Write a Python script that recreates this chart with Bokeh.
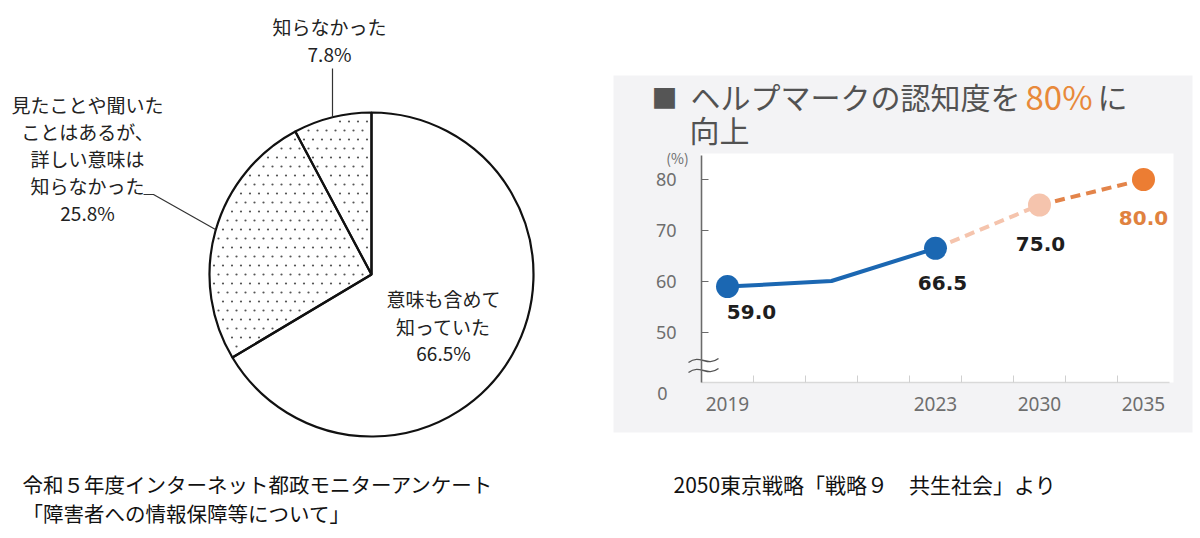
import numpy as np
from bokeh.plotting import figure
from bokeh.models import Range1d, LinearAxis, FixedTicker
from bokeh.layouts import row
from bokeh.core.properties import value
from bokeh.embed import file_html
from bokeh.resources import INLINE

# ---------------- survey answers (pie) ----------------
pie_names = ["意味も含めて知っていた", "見たことや聞いたことはあるが、詳しい意味は知らなかった", "知らなかった"]
pie_values = [66.5, 25.8, 7.8]
pie_stippled = [False, True, True]

# ---------------- help-mark awareness (line) ----------------
years = ["2019", "2021", "2023", "2030", "2035"]
year_slot = [0, 2, 4, 6, 8]
awareness = [59.0, 60.1, 66.5, 75.0, 80.0]
marked = [True, False, True, True, True]
axis_years = ["2019", "2023", "2030", "2035"]
y_ticks = [50, 60, 70, 80]

JP = value("Noto Sans CJK JP")
W, H = 600, 538

# ======================= left panel =======================
CX, CY, R = 371, 274, 162   # pie centre / radius in panel pixels
left = figure(width=W, height=H, output_backend="svg", toolbar_location=None,
              x_range=Range1d(-CX / R, (W - CX) / R),
              y_range=Range1d((CY - H) / R, CY / R),
              x_axis_type=None, y_axis_type=None, min_border=0,
              outline_line_color=None, background_fill_color="white",
              border_fill_color="white")
left.extra_x_ranges = {"px": Range1d(0, W)}
left.extra_y_ranges = {"py": Range1d(H, 0)}

shares = np.array(pie_values) / sum(pie_values)
cum = np.concatenate([[0.0], np.cumsum(shares)])
starts = np.pi / 2 - 2 * np.pi * cum[1:]
ends = np.pi / 2 - 2 * np.pi * cum[:-1]
left.wedge(x=0, y=0, radius=1, start_angle=starts, end_angle=ends,
           fill_color="white", line_color=None)

# stipple texture for the shaded slices: staggered grid of fine dots
step = 9.0 / R
gy = np.arange(-1, 1 + step, step)
sx, sy = [], []
for i, yy in enumerate(gy):
    gx = np.arange(-1 + (i % 2) * step / 2, 1 + step, step)
    sx.extend(gx)
    sy.extend([yy] * len(gx))
sx, sy = np.array(sx), np.array(sy)
rr = np.hypot(sx, sy)
frac = (np.arctan2(sx, sy) % (2 * np.pi)) / (2 * np.pi)   # clockwise from 12 o'clock
keep = np.zeros(len(sx), dtype=bool)
for k, st in enumerate(pie_stippled):
    if st:
        a0, a1 = 2 * np.pi * cum[k], 2 * np.pi * cum[k + 1]
        ang = frac * 2 * np.pi
        inside = (ang > a0) & (ang < a1)
        # keep dots clear of the slice edges
        d0 = rr * np.abs(np.sin(ang - a0))
        d1 = rr * np.abs(np.sin(a1 - ang))
        keep |= inside & (d0 > 3 / R) & (d1 > 3 / R) & (rr < 1 - 4 / R)
left.scatter(x=sx[keep], y=sy[keep], size=2.2, fill_color="#555555", line_color=None)

left.wedge(x=0, y=0, radius=1, start_angle=starts, end_angle=ends,
           fill_color=None, line_color="#111111", line_width=2.2)

pct = [f"{v:.1f}%" for v in pie_values]

def ltext(x, y, lines, size="19px", color="#222222"):
    left.text(x=[x] * len(lines), y=y, text=lines, x_range_name="px", y_range_name="py",
              text_font=JP, text_font_size=size, text_color=color,
              text_align="center", text_baseline="middle")

# label inside the large slice
ltext(443, [298, 326, 352], ["意味も含めて", "知っていた", pct[0]])
# label for the middle slice
ltext(87, [104, 131, 158, 185, 212],
      ["見たことや聞いた", "ことはあるが、", "詳しい意味は", "知らなかった", pct[1]])
# label for the small slice
ltext(329, [26, 53], ["知らなかった", pct[2]])

# leader lines
left.line(x=[332, 332], y=[68, 117], x_range_name="px", y_range_name="py",
          line_color="#333333", line_width=1.2)
left.line(x=[143, 153, 215], y=[194, 194, 229], x_range_name="px", y_range_name="py",
          line_color="#333333", line_width=1.2)

# source caption
left.text(x=[22, 22], y=[483, 512],
          text=["令和５年度インターネット都政モニターアンケート", "「障害者への情報保障等について」"],
          x_range_name="px", y_range_name="py", text_font=JP, text_font_size="20.5px",
          text_color="#111111", text_align="left", text_baseline="middle")

# ======================= right panel =======================
X0, XU = 727, 52      # pixel of slot 0, pixels per slot
Y80, YU = 179, 5.1    # pixel of 80 %, pixels per percentage point
OFF = 600
right = figure(width=W, height=H, output_backend="svg", toolbar_location=None,
               x_range=Range1d((OFF - X0) / XU, (OFF + W - X0) / XU),
               y_range=Range1d(80 - (H - Y80) / YU, 80 + Y80 / YU),
               x_axis_type=None, y_axis_type=None, min_border=0,
               outline_line_color=None, background_fill_color="white",
               border_fill_color="white")
right.extra_x_ranges = {"px": Range1d(OFF, OFF + W)}
right.extra_y_ranges = {"py": Range1d(H, 0)}

# panel background and white plotting area
right.quad(left=613, right=1192, top=75, bottom=432, x_range_name="px", y_range_name="py",
           fill_color="#f3f3f5", line_color=None)
right.quad(left=700, right=1173, top=153, bottom=382, x_range_name="px", y_range_name="py",
           fill_color="white", line_color=None)

y_bottom = 80 - (382 - Y80) / YU
y_top = 80 + (Y80 - 155) / YU
slot_min, slot_max = year_slot[0] - 0.5, year_slot[-1] + 0.5

yax = LinearAxis(fixed_location=slot_min, bounds=(y_bottom, y_top),
                 ticker=FixedTicker(ticks=y_ticks, minor_ticks=[]),
                 axis_line_color="#6b6b6b", axis_line_width=1.6,
                 major_tick_line_color="#6b6b6b", major_tick_line_width=1.2,
                 major_tick_in=7, major_tick_out=0, minor_tick_line_color=None,
                 major_label_standoff=25, major_label_text_font="Noto Sans",
                 major_label_text_font_size="18px", major_label_text_color="#6e6e6e")
right.add_layout(yax, "left")

label_slots = [s for s, y in zip(year_slot, years) if y in axis_years]
xax = LinearAxis(fixed_location=y_bottom, bounds=(slot_min, slot_max),
                 ticker=FixedTicker(ticks=label_slots,
                                    minor_ticks=list(np.arange(slot_min + 1, slot_max, 1.0))),
                 major_label_overrides={s: y for s, y in zip(year_slot, years) if y in axis_years},
                 axis_line_color="#d9d9d9", axis_line_width=1.5,
                 major_tick_line_color=None,
                 minor_tick_line_color="#d0d0d0", minor_tick_in=7, minor_tick_out=0,
                 major_label_standoff=8, major_label_text_font="Noto Sans",
                 major_label_text_font_size="19px", major_label_text_color="#6e6e6e")
right.add_layout(xax, "below")

# axis break mark and extra labels
for yb in (360, 370):
    right.bezier(x0=688, y0=yb + 2, x1=718, y1=yb - 2, cx0=700, cy0=yb - 7, cx1=706, cy1=yb + 7,
                 x_range_name="px", y_range_name="py", line_color="#555555", line_width=1.4)
right.text(x=[662], y=[393], text=["0"], x_range_name="px", y_range_name="py",
           text_font=value("Noto Sans"), text_font_size="18px", text_color="#6e6e6e",
           text_align="center", text_baseline="middle")
right.text(x=[677], y=[157], text=["(%)"], x_range_name="px", y_range_name="py",
           text_font=JP, text_font_size="14px", text_color="#6e6e6e",
           text_align="center", text_baseline="middle")

# series: actual (blue), target path (peach / orange, dashed)
BLUE, PEACH, ORANGE = "#1b67b2", "#f5c4ad", "#ec7d33"
right.line(x=year_slot[:3], y=awareness[:3], line_color=BLUE, line_width=4)
right.line(x=year_slot[2:4], y=awareness[2:4], line_color=PEACH, line_width=4, line_dash="10 6")
right.line(x=year_slot[3:5], y=awareness[3:5], line_color="#e3844a", line_width=4, line_dash="10 6")

mx = [s for s, m in zip(year_slot, marked) if m]
my = [v for v, m in zip(awareness, marked) if m]
right.scatter(x=mx, y=my, size=23, fill_color=[BLUE, BLUE, PEACH, ORANGE], line_color=None)
right.text(x=mx, y=my, text=[f"{v:.1f}" for v in my],
           x_offset=[24, 7, 1, 0], y_offset=[25, 35, 39, 38],
           text_font=value("DejaVu Sans"), text_font_style="bold", text_font_size="20px",
           text_color=["#1e1e1e", "#1e1e1e", "#1e1e1e", "#e0823f"],
           text_align="center", text_baseline="middle")

# heading
right.text(x=[664], y=[96], text=["■"], x_range_name="px", y_range_name="py",
           text_font=JP, text_font_size="26px", text_color="#555555",
           text_align="center", text_baseline="middle")
right.text(x=[690, 689, 1097], y=[95, 128, 95], text=["ヘルプマークの認知度を", "向上", "に"],
           x_range_name="px", y_range_name="py",
           text_font=JP, text_font_size="30px", text_color="#525252",
           text_align="left", text_baseline="middle")
right.text(x=[1025], y=[95], text=[f"{awareness[-1]:.0f}%"], x_range_name="px", y_range_name="py",
           text_font=JP, text_font_size="33px", text_color="#e8893a",
           text_align="left", text_baseline="middle")

# source caption
right.text(x=[673], y=[483], text=["2050東京戦略「戦略９　共生社会」より"],
           x_range_name="px", y_range_name="py", text_font=JP, text_font_size="21px",
           text_color="#111111", text_align="left", text_baseline="middle")

layout = row(left, right, spacing=0)
open("out.html", "w").write(file_html(layout, INLINE))
